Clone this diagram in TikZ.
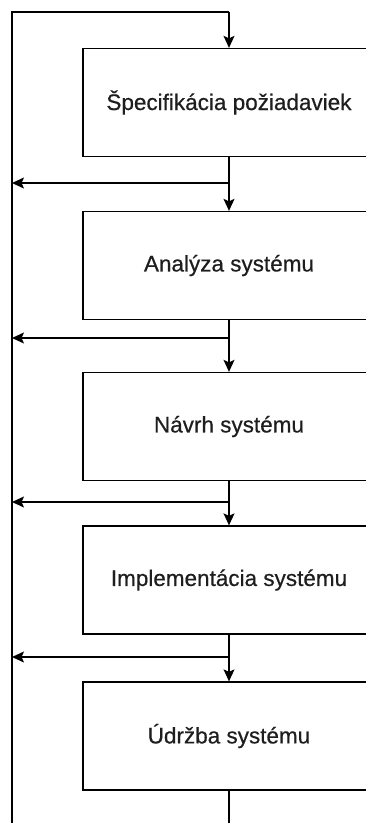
\documentclass[tikz,border=0pt]{standalone}
\usepackage{fontspec}
\setmainfont{Liberation Sans}[FakeBold=0.5]
\usetikzlibrary{arrows.meta}
\definecolor{labeltext}{RGB}{30,30,30}
\tikzset{
  phase/.style={draw=black, line width=1.3pt, fill=white, minimum width=292pt,
    minimum height=108pt, inner sep=0pt, text=labeltext,
    font=\fontsize{22.5}{27}\selectfont},
  flow/.style={line width=1.3pt, draw=black},
  flowarrow/.style={flow, -{Stealth[length=12pt,width=11pt,inset=2.5pt]}},
}
\begin{document}
\begin{tikzpicture}[x=1pt,y=-1pt]
  \clip (0,0) rectangle (366,823);
  \useasboundingbox (0,0) rectangle (366,823);

  % the five phases of the life cycle
  \node[phase] (s1) at (229,102.5) {Špecifikácia požiadaviek};
  \node[phase] (s2) at (229,265.5) {Analýza systému};
  \node[phase] (s3) at (229,426.5) {Návrh systému};
  \node[phase] (s4) at (229,580) {Implementácia systému};
  \node[phase] (s5) at (229,736) {Údržba systému};

  % return line on the left
  \coordinate (tl) at (12,12);
  \coordinate (top) at (229,12);
  \coordinate (bl) at (12,823);
  \coordinate (end) at (229,823);

  \draw[flow] (bl) -- (tl) -- (top);
  \draw[flowarrow] (top) -- (s1.north);

  % branch points between phases
  \coordinate (b1) at (229,183);
  \coordinate (b2) at (229,338);
  \coordinate (b3) at (229,502);
  \coordinate (b4) at (229,657);

  \draw[flowarrow] (s1.south) -- (s2.north);
  \draw[flowarrow] (s2.south) -- (s3.north);
  \draw[flowarrow] (s3.south) -- (s4.north);
  \draw[flowarrow] (s4.south) -- (s5.north);
  \draw[flow] (s5.south) -- (end);

  \foreach \b in {b1,b2,b3,b4}
    \draw[flowarrow] (\b) -- (\b -| tl);
\end{tikzpicture}
\end{document}
